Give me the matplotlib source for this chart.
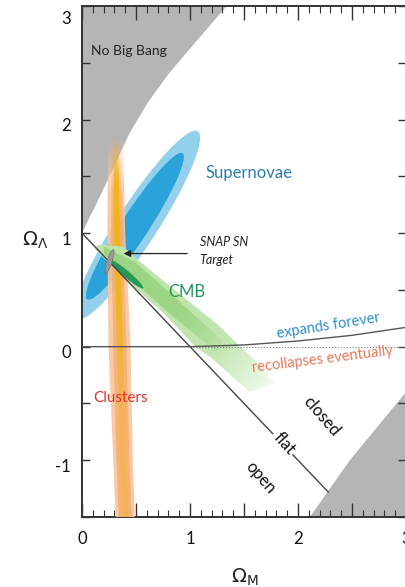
import numpy as np
import matplotlib
matplotlib.use('Agg')
import matplotlib.pyplot as plt
from matplotlib.patches import Ellipse, Polygon
from matplotlib.colors import to_rgb
import matplotlib.transforms as mtransforms

plt.rcParams['font.family'] = ['Lato', 'DejaVu Sans']

# --- data (Omega_M, Omega_Lambda) ---
# "No Big Bang" boundary
nbb_om = [0.0, 0.05, 0.15, 0.28, 0.44, 0.61, 0.80, 1.05, 1.34]
nbb_ol = [1.0, 1.10, 1.29, 1.55, 1.88, 2.15, 2.40, 2.68, 3.00]
# recollapse-region boundary (bottom right grey)
rc_om = [2.11, 2.48, 3.0]
rc_ol = [-1.5, -1.0, -0.4]
# expands forever / recollapses boundary
exp_om = [0.0, 1.0, 1.5, 2.0, 2.5, 3.0]
exp_ol = [0.0, 0.0, 0.015, 0.05, 0.10, 0.17]
# flat universe line
flat_om = [0.0, 2.28]
flat_ol = [1.0, -1.28]

# supernovae confidence ellipses: centre, length, thickness, angle
sn_outer = dict(xy=(0.51, 1.07), width=2.0, height=0.37, angle=55.7)
sn_inner = dict(xy=(0.49, 1.06), width=1.56, height=0.25, angle=55.5)

# clusters band (edges as function of Omega_Lambda)
cl_ol = [1.85, 1.0, 0.0, -1.0, -1.5]
cl_outer_lo = [0.24, 0.235, 0.245, 0.29, 0.31]
cl_outer_hi = [0.38, 0.40, 0.45, 0.47, 0.49]
cl_mid_lo = [0.27, 0.27, 0.29, 0.32, 0.34]
cl_mid_hi = [0.35, 0.38, 0.41, 0.44, 0.46]
cl_core_lo = [0.29, 0.295, 0.325, 0.355, 0.37]
cl_core_hi = [0.335, 0.35, 0.38, 0.41, 0.43]

# CMB band
cmb_outer_om = [0.15, 0.38, 0.60, 0.91, 1.25, 1.60, 1.78, 1.55, 1.20, 1.05, 0.75, 0.44, 0.19, 0.12]
cmb_outer_ol = [0.90, 0.88, 0.70, 0.46, 0.20, -0.12, -0.32, -0.40, -0.10, 0.0, 0.30, 0.56, 0.79, 0.86]
cmb_inner_om = [0.20, 0.50, 0.90, 1.30, 1.25, 0.80, 0.45, 0.20]
cmb_inner_ol = [0.88, 0.74, 0.40, 0.05, -0.05, 0.30, 0.60, 0.82]
cmb_core = dict(xy=(0.41, 0.64), width=0.40, height=0.06, angle=-38.7)

# SNAP target
snap = dict(xy=(0.255, 0.75), width=0.22, height=0.045, angle=70.7)
snap_arrow_from = (1.0, 0.82)
snap_arrow_to = (0.36, 0.82)

xticks = [0, 0.5, 1, 1.5, 2, 2.5, 3]
xticklabels = ['0', '', '1', '', '2', '', '3']
yticks = [-1.5, -1, -0.5, 0, 0.5, 1, 1.5, 2, 2.5, 3]
yticklabels = ['', '-1', '', '0', '', '1', '', '2', '', '3']


def gradient_fill(ax, xs, ys, color, p0, p1, stops, z):
    poly = Polygon(np.column_stack([xs, ys]), closed=True, facecolor='none', edgecolor='none')
    ax.add_patch(poly)
    x0, x1 = min(xs), max(xs)
    y0, y1 = min(ys), max(ys)
    gx, gy = np.meshgrid(np.linspace(x0, x1, 200), np.linspace(y0, y1, 300))
    d = np.array(p1) - np.array(p0)
    t = ((gx - p0[0]) * d[0] + (gy - p0[1]) * d[1]) / (d @ d)
    ts, al = zip(*stops)
    rgba = np.zeros(gx.shape + (4,))
    rgba[..., :3] = to_rgb(color)
    rgba[..., 3] = np.interp(np.clip(t, 0, 1), ts, al)
    im = ax.imshow(rgba, extent=(x0, x1, y0, y1), origin='lower', aspect='auto',
                   interpolation='bilinear', zorder=z)
    im.set_clip_path(poly)


fig = plt.figure(figsize=(4.06, 5.87), dpi=100)
ax = fig.add_axes([82 / 406, 1 - 517 / 587, 324 / 406, 511 / 587])

grey = '#b5b5b5'
ax.fill(nbb_om + [0.0], nbb_ol + [3.0], color=grey, lw=0, zorder=1)
ax.fill(rc_om + [3.0], rc_ol + [-1.5], color=grey, lw=0, zorder=1)

# supernovae
ax.add_patch(Ellipse(**sn_outer, facecolor='#93d0ec', edgecolor='none', zorder=2))
ax.add_patch(Ellipse(**sn_inner, facecolor='#2aa3db', edgecolor='none', zorder=2.1))

# clusters
band_ol = cl_ol + cl_ol[::-1]
gradient_fill(ax, cl_outer_lo + cl_outer_hi[::-1], band_ol, '#fbc49a',
              (0, 1.85), (0, -1.5), [(0.0, 0.0), (0.15, 0.9), (1.0, 0.9)], 3)
gradient_fill(ax, cl_mid_lo + cl_mid_hi[::-1], band_ol, '#f3a25a',
              (0, 1.85), (0, -1.5), [(0.0, 0.0), (0.2, 0.55), (1.0, 0.6)], 3.1)
gradient_fill(ax, cl_core_lo + cl_core_hi[::-1], band_ol, '#f1b416',
              (0, 1.85), (0, -1.5),
              [(0.0, 0.0), (0.12, 0.95), (0.45, 0.9), (0.65, 0.4), (1.0, 0.3)], 3.2)

# CMB
gradient_fill(ax, cmb_outer_om, cmb_outer_ol, '#bfe4ab', (0.15, 0.9), (1.75, -0.35),
              [(0.0, 1.0), (0.7, 0.95), (1.0, 0.2)], 4)
gradient_fill(ax, cmb_inner_om, cmb_inner_ol, '#9ad483', (0.15, 0.9), (1.3, 0.0),
              [(0.0, 1.0), (0.7, 0.9), (1.0, 0.2)], 4.1)
ax.add_patch(Ellipse(**cmb_core, facecolor='#259a55', edgecolor='none', zorder=4.3))

# lines
ax.plot(exp_om[1:], [0] * (len(exp_om) - 1), color='#777777', lw=0.8, ls=':', zorder=4.9)
ax.plot(exp_om, exp_ol, color='#555555', lw=1.0, zorder=5)
ax.plot(flat_om, flat_ol, color='#444444', lw=1.0, zorder=5)

# SNAP
ax.add_patch(Ellipse(**snap, facecolor='#9a9a9a', edgecolor='#777777', lw=0.6, zorder=6))
ax.annotate('', xy=snap_arrow_to, xytext=snap_arrow_from,
            arrowprops=dict(arrowstyle='-|>', color='#222222', lw=0.9, mutation_scale=10),
            zorder=6)
ax.text(1.09, 0.92, 'SNAP SN', fontsize=9, style='italic', color='#222222', va='center', zorder=7)
ax.text(1.09, 0.76, 'Target', fontsize=9, style='italic', color='#222222', va='center', zorder=7)

# labels
ax.text(0.085, 2.6, 'No Big Bang', fontsize=10, color='#222222', va='center', zorder=7)
ax.text(1.14, 1.53, 'Supernovae', fontsize=12, color='#2b7db0', va='center', zorder=7)
ax.text(0.80, 0.48, 'CMB', fontsize=12, color='#23955a', va='center', zorder=7)
ax.text(0.10, -0.45, 'Clusters', fontsize=11, color='#e0362c', va='center', zorder=7)
ax.text(2.28, 0.18, 'expands forever', fontsize=10.5, color='#2a8fcf', rotation=9,
        ha='center', va='center', zorder=7)
ax.text(2.23, -0.11, 'recollapses eventually', fontsize=10.5, color='#e8785a', rotation=7,
        ha='center', va='center', zorder=7)
ax.text(2.22, -0.61, 'closed', fontsize=12, color='#111111', rotation=-49,
        ha='center', va='center', zorder=7)
ax.text(1.87, -0.85, 'flat', fontsize=12, color='#111111', rotation=-48,
        ha='center', va='center', zorder=7,
        bbox=dict(facecolor='white', edgecolor='none', pad=1.5))
ax.text(1.65, -1.15, 'open', fontsize=12, color='#111111', rotation=-49,
        ha='center', va='center', zorder=7)

# axes
ax.set_xlim(0, 3)
ax.set_ylim(-1.5, 3)
ax.set_xticks(xticks)
ax.set_xticklabels(xticklabels)
ax.set_xticks(np.arange(0, 3.01, 0.1), minor=True)
ax.set_yticks(yticks)
ax.set_yticklabels(yticklabels)
ax.tick_params(which='both', direction='in', top=True, right=True, color='#333333',
               labelsize=12, labelcolor='#111111')
ax.tick_params(axis='x', which='major', length=10, width=1.0, pad=10)
ax.tick_params(axis='x', which='minor', length=5, width=0.8)
ax.tick_params(axis='y', which='major', length=6, width=1.0, pad=8)
for s in ax.spines.values():
    s.set_color('#333333')
    s.set_linewidth(1.4)

# nudge y labels a bit downward like the reference
off = mtransforms.ScaledTranslation(0, -5 / 100, fig.dpi_scale_trans)
for lab in ax.get_yticklabels():
    lab.set_transform(lab.get_transform() + off)
    if lab.get_text() == '3':
        lab.set_transform(lab.get_transform() + mtransforms.ScaledTranslation(0, -6 / 100, fig.dpi_scale_trans))

fig.text(35 / 406, 1 - 240 / 587, r'$\Omega_\Lambda$', fontsize=14, ha='center', va='center', color='#222222')
fig.text(245 / 406, 1 - 577 / 587, r'$\Omega_{\rm M}$', fontsize=14, ha='center', va='center', color='#222222')

fig.savefig('out.png', dpi=100)
